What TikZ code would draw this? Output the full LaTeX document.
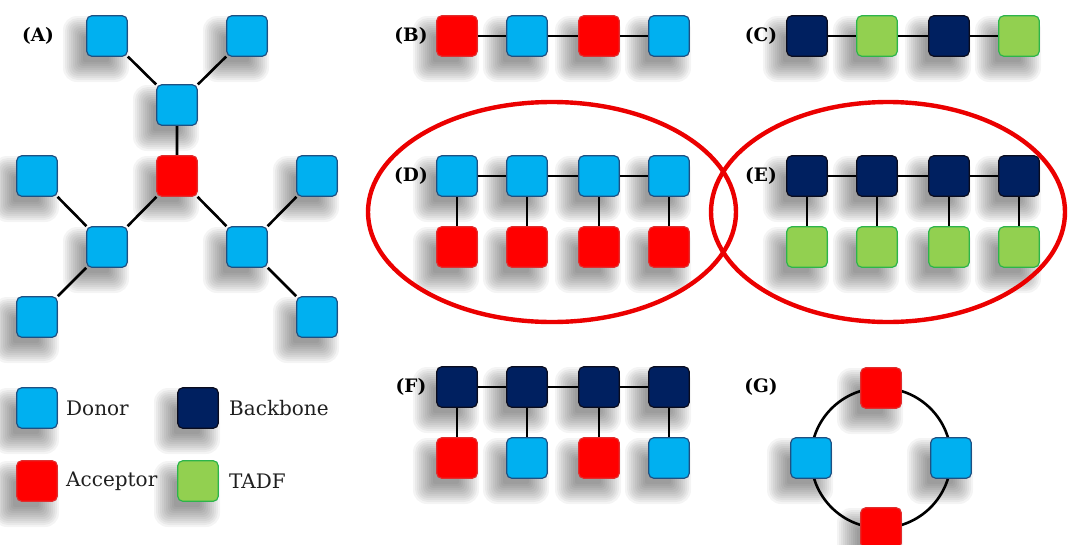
\documentclass[tikz,border=0pt]{standalone}
\usepackage{fontspec}
\setmainfont{DejaVu Serif}
\usetikzlibrary{calc}
\pgfdeclarelayer{shadows}
\pgfdeclarelayer{edges}
\pgfsetlayers{shadows,edges,main}

\definecolor{donorfill}{RGB}{0,176,240}
\definecolor{donorline}{RGB}{30,80,130}
\definecolor{accfill}{RGB}{255,0,0}
\definecolor{accline}{RGB}{225,45,45}
\definecolor{bbfill}{RGB}{0,32,96}
\definecolor{bbline}{RGB}{10,12,30}
\definecolor{tadffill}{RGB}{146,208,80}
\definecolor{tadfline}{RGB}{45,180,75}
\definecolor{ringred}{RGB}{235,0,0}

\tikzset{
  unit/.style={rounded corners=5pt, minimum size=40.5pt, inner sep=0pt, line width=1.2pt},
  donor/.style={unit, fill=donorfill, draw=donorline},
  acceptor/.style={unit, fill=accfill, draw=accline},
  backbone/.style={unit, fill=bbfill, draw=bbline},
  tadf/.style={unit, fill=tadffill, draw=tadfline},
  link/.style={line width=2.6pt, black},
  panel/.style={font=\bfseries\fontsize{18.5}{22}\selectfont},
  legendtext/.style={anchor=west, inner sep=0pt, font=\fontsize{20}{24}\selectfont, text=black!88},
  ring/.style={draw=ringred, line width=4.4pt},
}

% soft shadow below and left of a unit
\newcommand\softshadow[1]{%
  \foreach \a/\c in {33/14,31/13,29/11,27/9,25/8,23/7,21/6,19/5,17/4,15/3,13/2}{%
    \fill[black, opacity=0.045, rounded corners=\c pt]
      ($(#1.center)+({-11-\a},{13-\a})$) rectangle ($(#1.center)+({-11+\a},{13+\a})$);
  }%
}

\begin{document}
\begin{tikzpicture}[x=1pt, y=-1pt]
\useasboundingbox (0,0) rectangle (1070,544);

% ---------- (A) star
\node[panel] (la) at (38,36) {(A)};
\node[donor] (a1) at (107,36) {};
\node[donor] (a2) at (247,36) {};
\node[donor] (a3) at (177,105) {};
\node[acceptor] (a4) at (177,176) {};
\node[donor] (a5) at (37,176) {};
\node[donor] (a6) at (317,176) {};
\node[donor] (a7) at (107,247) {};
\node[donor] (a8) at (247,247) {};
\node[donor] (a9) at (37,317) {};
\node[donor] (a10) at (317,317) {};

% ---------- (B) alternating chain
\node[panel] (lb) at (411,36) {(B)};
\node[acceptor] (b1) at (457,36) {};
\node[donor] (b2) at (527,36) {};
\node[acceptor] (b3) at (599,36) {};
\node[donor] (b4) at (669,36) {};

% ---------- (C) backbone / TADF chain
\node[panel] (lc) at (761,36) {(C)};
\node[backbone] (c1) at (807,36) {};
\node[tadf] (c2) at (877,36) {};
\node[backbone] (c3) at (949,36) {};
\node[tadf] (c4) at (1019,36) {};

% ---------- (D) donor backbone with acceptor side groups
\node[panel] (ld) at (411,176) {(D)};
\node[donor] (d1) at (457,176) {};
\node[donor] (d2) at (527,176) {};
\node[donor] (d3) at (599,176) {};
\node[donor] (d4) at (669,176) {};
\node[acceptor] (d5) at (457,247) {};
\node[acceptor] (d6) at (527,247) {};
\node[acceptor] (d7) at (599,247) {};
\node[acceptor] (d8) at (669,247) {};

% ---------- (E) backbone with TADF side groups
\node[panel] (le) at (761,176) {(E)};
\node[backbone] (e1) at (807,176) {};
\node[backbone] (e2) at (877,176) {};
\node[backbone] (e3) at (949,176) {};
\node[backbone] (e4) at (1019,176) {};
\node[tadf] (e5) at (807,247) {};
\node[tadf] (e6) at (877,247) {};
\node[tadf] (e7) at (949,247) {};
\node[tadf] (e8) at (1019,247) {};

% ---------- (F) backbone with alternating side groups
\node[panel] (lf) at (411,387) {(F)};
\node[backbone] (f1) at (457,387) {};
\node[backbone] (f2) at (527,387) {};
\node[backbone] (f3) at (599,387) {};
\node[backbone] (f4) at (669,387) {};
\node[acceptor] (f5) at (457,458) {};
\node[donor] (f6) at (527,458) {};
\node[acceptor] (f7) at (599,458) {};
\node[donor] (f8) at (669,458) {};

% ---------- (G) macrocycle
\node[panel] (lg) at (761,387) {(G)};
\coordinate (gc) at (881,458);
\node[acceptor] (g1) at (881,388) {};
\node[donor] (g2) at (951,458) {};
\node[acceptor] (g3) at (881,528) {};
\node[donor] (g4) at (811,458) {};

% ---------- legend
\node[donor] (k1) at (37,408) {};
\node[legendtext] (t1) at (66,408) {Donor};
\node[backbone] (k2) at (198,408) {};
\node[legendtext] (t2) at (229,408) {Backbone};
\node[acceptor] (k3) at (37,481) {};
\node[legendtext] (t3) at (66,481) {Acceptor};
\node[tadf] (k4) at (198,481) {};
\node[legendtext] (t4) at (229,481) {TADF};

% ---------- connectors
\begin{pgfonlayer}{edges}
  \draw[link] (a1) -- (a3) (a2) -- (a3) (a3) -- (a4)
              (a4) -- (a7) (a4) -- (a8)
              (a5) -- (a7) (a7) -- (a9)
              (a6) -- (a8) (a8) -- (a10);
  \draw[link] (b1) -- (b2) -- (b3) -- (b4);
  \draw[link] (c1) -- (c2) -- (c3) -- (c4);
  \draw[link] (d1) -- (d2) -- (d3) -- (d4)
              (d1) -- (d5) (d2) -- (d6) (d3) -- (d7) (d4) -- (d8);
  \draw[link] (e1) -- (e2) -- (e3) -- (e4)
              (e1) -- (e5) (e2) -- (e6) (e3) -- (e7) (e4) -- (e8);
  \draw[link] (f1) -- (f2) -- (f3) -- (f4)
              (f1) -- (f5) (f2) -- (f6) (f3) -- (f7) (f4) -- (f8);
  \draw[link] (gc) circle [radius=70];
\end{pgfonlayer}

% ---------- soft shadows
\begin{pgfonlayer}{shadows}
  \foreach \n in {a1,a2,a3,a4,a5,a6,a7,a8,a9,a10,
                  b1,b2,b3,b4,c1,c2,c3,c4,
                  d1,d2,d3,d4,d5,d6,d7,d8,
                  e1,e2,e3,e4,e5,e6,e7,e8,
                  f1,f2,f3,f4,f5,f6,f7,f8,
                  g1,g2,g3,g4,k1,k2,k3,k4}{\softshadow{\n}}
\end{pgfonlayer}

% ---------- grouping rings around (D) and (E)
\draw[ring] (552,212) ellipse [x radius=184, y radius=110];
\draw[ring] (888,212) ellipse [x radius=177, y radius=110];
\end{tikzpicture}
\end{document}
